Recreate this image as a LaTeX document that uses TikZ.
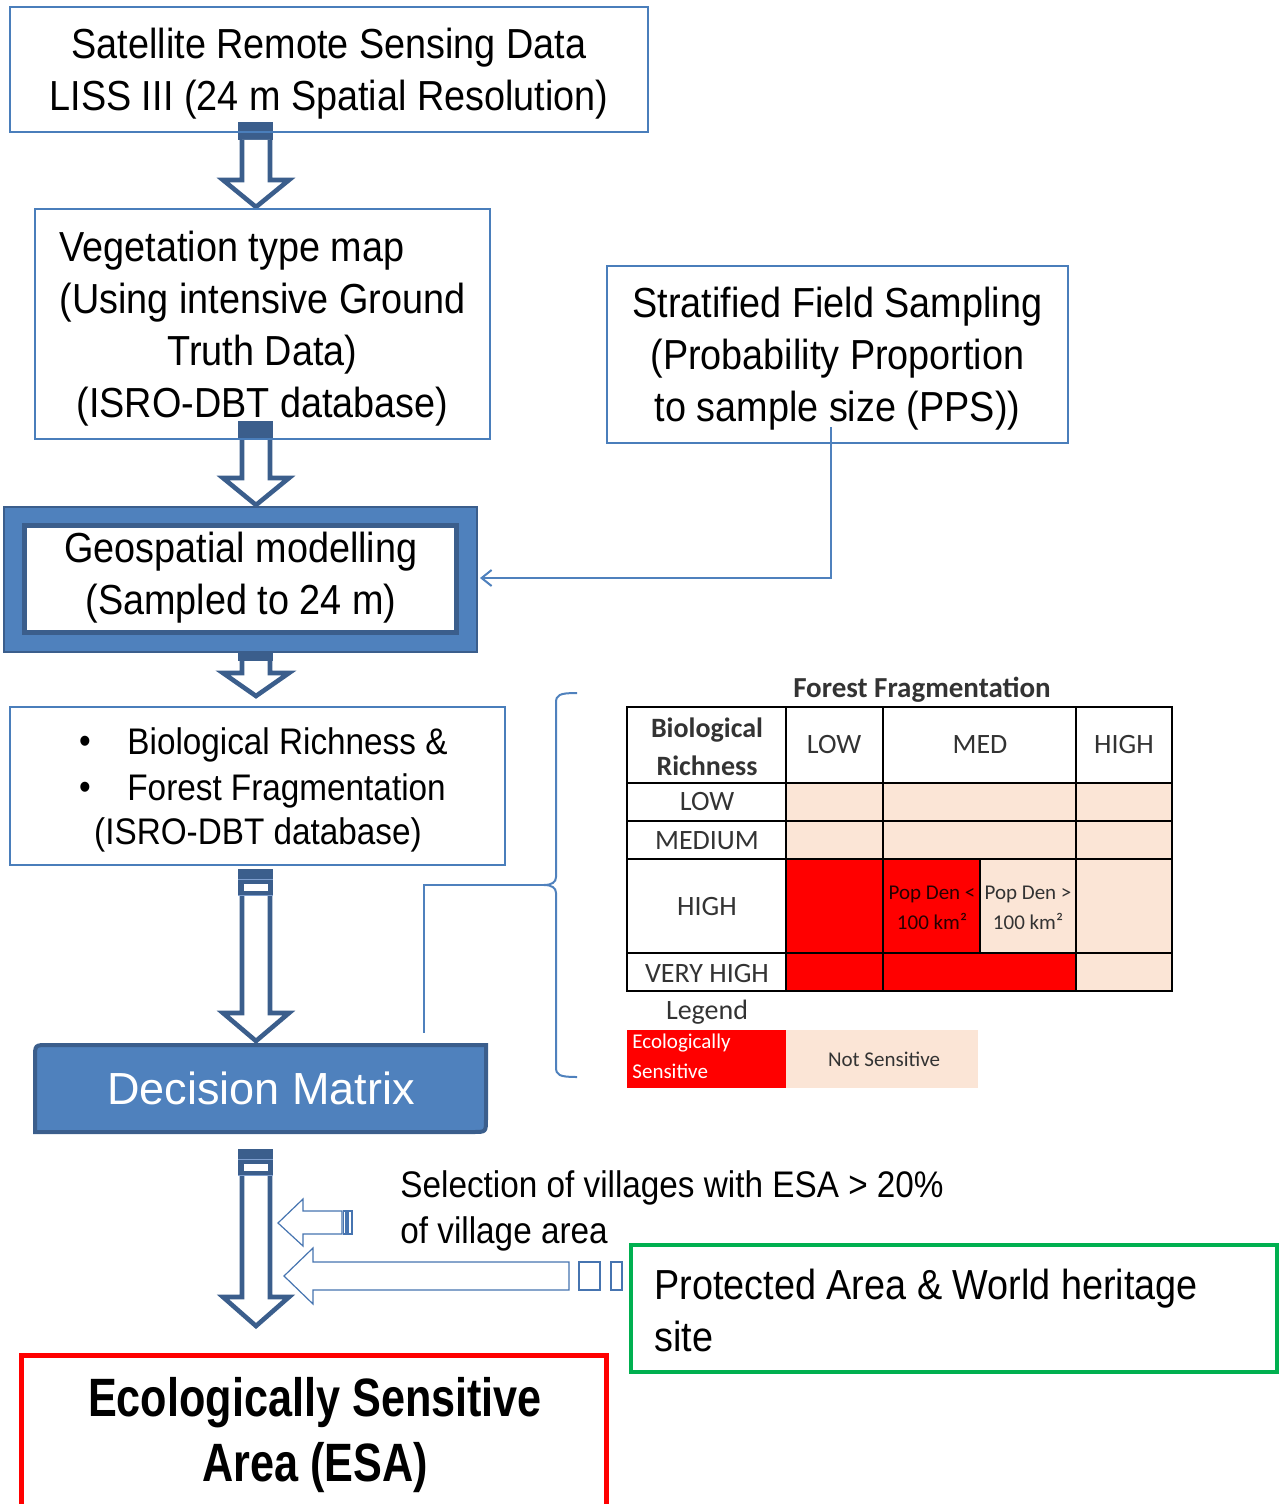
\documentclass[tikz,border=0pt]{standalone}
\usepackage{fontspec}
\usepackage{calc}
\setmainfont{Liberation Sans}[FakeStretch=0.9]
\newfontfamily\dmfont{Liberation Sans}
\newfontfamily\esafont{Liberation Sans}[FakeStretch=0.8]
\newfontfamily\calfont{Carlito}
\usetikzlibrary{arrows.meta}
\definecolor{boxblue}{HTML}{4A7EBB}
\definecolor{arrowblue}{HTML}{3B5E8C}
\definecolor{fillblue}{HTML}{4F81BD}
\definecolor{thinblue}{HTML}{4674B0}
\definecolor{stripeline}{HTML}{7F9FCF}
\definecolor{esared}{HTML}{FF0000}
\definecolor{pagreen}{HTML}{00B050}
\definecolor{beige}{HTML}{FBE5D6}
\definecolor{tgray}{HTML}{333333}
\newcommand{\mkdownarrow}[4]{%
  \filldraw[barrow] ({#1-14},#2) -- ({#1-14},#3) -- ({#1-33},#3) -- (#1,#4) -- ({#1+33},#3) -- ({#1+14},#3) -- ({#1+14},#2);}
\tikzset{
  box/.style={draw=boxblue, line width=1pt, inner sep=0pt},
  maintext/.style={font=\fontsize{21}{26}\selectfont, align=center, text=black, inner sep=0pt},
  midtext/.style={font=\fontsize{18.5}{23}\selectfont, text=black, inner sep=0pt},
  barrow/.style={draw=arrowblue, line width=2.3pt, fill=white, line join=miter},
  thinarrow/.style={draw=thinblue, line width=0.6pt, fill=white},
  conn/.style={draw=fillblue, line width=1pt},
  gridline/.style={draw=black, line width=1.2pt},
  cell/.style={font=\calfont\fontsize{14}{17}\selectfont, text=tgray, inner sep=0pt},
  small/.style={font=\calfont\fontsize{10.5}{12}\selectfont, inner sep=0pt},
}
\begin{document}
\begin{tikzpicture}[x=0.5pt,y=-0.5pt]
\useasboundingbox (0,0) rectangle (1282,1504);

% ---------- block arrows (drawn first, boxes overlay) ----------
\fill[arrowblue] (238,122) rectangle (273,140);
\mkdownarrow{256}{140}{180}{207}
\fill[arrowblue] (238,421) rectangle (273,440);
\mkdownarrow{256}{440}{478}{505}
\fill[arrowblue] (238,652) rectangle (273,661);
\mkdownarrow{256}{661}{673}{696}
% striped arrow 4
\fill[arrowblue] (238,869) rectangle (273,895);
\fill[white] (244,884) rectangle (268,891);
\draw[stripeline, line width=0.5pt] (238,879) -- (273,879) (238,895) -- (273,895);
\mkdownarrow{256}{896}{1013}{1041}
% striped arrow 5
\fill[arrowblue] (238,1149) rectangle (273,1175);
\fill[white] (244,1164) rectangle (268,1171);
\draw[stripeline, line width=0.5pt] (238,1159) -- (273,1159) (238,1175) -- (273,1175);
\mkdownarrow{256}{1176}{1297}{1326}

% ---------- boxes ----------
\node[box, minimum width=319pt, minimum height=62.5pt] (sat) at (329,69.5) {};
\node[maintext] (sattext) at (329,73.5) {Satellite Remote Sensing Data\\LISS III (24 m Spatial Resolution)};
\node[box, minimum width=227.5pt, minimum height=115pt] (veg) at (262.5,324) {};
\node[maintext] (vegtext) at (262.5,329)
  {\makebox[\widthof{(Using intensive Ground}][l]{Vegetation type map}\\(Using intensive Ground\\Truth Data)\\(ISRO-DBT database)};
\node[box, minimum width=230.5pt, minimum height=88.5pt] (strat) at (837.5,354.5) {};
\node[maintext] (strattext) at (837.5,359)
  {Stratified Field Sampling\\(Probability Proportion\\to sample size (PPS))};

% geospatial
\node[draw=arrowblue, line width=1pt, fill=fillblue, minimum width=236.5pt, minimum height=72.5pt, inner sep=0pt] (geoouter) at (240.5,579.5) {};
\node[draw=arrowblue, line width=2.5pt, fill=white, minimum width=216pt, minimum height=53.5pt, inner sep=0pt] (geo) at (240.5,579) {};
\node[maintext] (geotext) at (241,577.5) {Geospatial modelling\\(Sampled to 24 m)};

% biological richness box
\node[box, minimum width=247.5pt, minimum height=79pt] (bio) at (257.5,786) {};
\node[midtext] (bul1) at (85,745) {\textbullet};
\node[midtext, anchor=west] (b1) at (127,745) {Biological Richness \&};
\node[midtext] (bul2) at (85,791) {\textbullet};
\node[midtext, anchor=west] (b2) at (127,791) {Forest Fragmentation};
\node[midtext] (b3) at (258,835) {(ISRO-DBT database)};

% decision matrix
\filldraw[fill=fillblue, draw=arrowblue, line width=2pt]
  (35,1132) -- (35,1058) .. controls (35,1045) .. (48,1045) -- (486,1045) -- (486,1119) .. controls (486,1132) .. (473,1132) -- cycle;
\node[font=\dmfont\fontsize{22.5}{26}\selectfont, text=white, inner sep=0pt] (dm) at (261,1088) {Decision Matrix};

% ESA
\draw[esared, line width=2.5pt] (21.5,1510) -- (21.5,1355) -- (606,1355) -- (606,1510);
\node[font=\esafont\bfseries\fontsize{27}{32.5}\selectfont, align=center, inner sep=0pt] (esa) at (315,1435)
  {Ecologically Sensitive\\Area (ESA)};

% protected area
\node[draw=pagreen, line width=2pt, minimum width=323pt, minimum height=63.5pt, inner sep=0pt] (pa) at (954,1308.5) {};
\node[maintext, align=left, anchor=west] (patext) at (654,1310) {Protected Area \& World heritage\\site};

% selection text
\node[midtext, align=left, anchor=west] (sel) at (400,1211) {Selection of villages with ESA > 20\%\\of village area};

% left arrows
\filldraw[thinarrow] (342,1211) -- (303,1211) -- (303,1199) -- (278,1223) -- (303,1246) -- (303,1234) -- (342,1234) -- cycle;
\filldraw[thinarrow] (343.5,1211) rectangle (346,1234);
\filldraw[thinarrow] (348,1211) rectangle (352,1234);
\filldraw[thinarrow] (569,1262) -- (313,1262) -- (313,1248) -- (284,1276) -- (313,1304) -- (313,1290) -- (569,1290) -- cycle;
\filldraw[thinarrow] (579,1262) rectangle (600,1290);
\filldraw[thinarrow] (611,1262) rectangle (622,1290);

% connector from stratified sampling
\coordinate (s1) at (831,427);
\coordinate (geoin) at (480,578);
\draw[conn, -{Straight Barb[length=5pt,width=8pt]}] (s1) |- (geoin);

% brace and connector
\coordinate (bracetip) at (544,885);
\coordinate (dmin) at (424,1033);
\draw[conn] (577,693) .. controls (559,693) and (556,695) .. (556,703) -- (556,877)
  .. controls (556,882) and (552,885) .. (bracetip)
  .. controls (552,885) and (556,888) .. (556,893) -- (556,1067)
  .. controls (556,1075) and (559,1077) .. (577,1077);
\draw[conn] (bracetip) -| (dmin);

% ---------- decision table ----------
\fill[beige] (786,783) rectangle (1172,859);
\fill[beige] (980,859) rectangle (1172,953);
\fill[beige] (1076,953) rectangle (1172,991);
\fill[esared] (786,859) rectangle (980,953);
\fill[esared] (786,953) rectangle (1076,991);
\draw[gridline] (627,707) rectangle (1172,991);
\draw[gridline] (627,783) -- (1172,783) (627,821) -- (1172,821) (627,859) -- (1172,859) (627,953) -- (1172,953);
\draw[gridline] (786,707) -- (786,991) (883,707) -- (883,991) (1076,707) -- (1076,991) (980,859) -- (980,953);

\node[font=\calfont\bfseries\fontsize{14.5}{17}\selectfont, text=tgray, inner sep=0pt] (fftitle) at (922,690) {Forest Fragmentation};
\node[font=\calfont\bfseries\fontsize{14}{19}\selectfont, text=tgray, align=center, inner sep=0pt] (brhead) at (707,747) {Biological\\Richness};
\node[cell] (hlow) at (834,745) {LOW};
\node[cell] (hmed) at (980,745) {MED};
\node[cell] (hhigh) at (1124,745) {HIGH};
\node[cell] (rlow) at (707,802) {LOW};
\node[cell] (rmed) at (707,841) {MEDIUM};
\node[cell] (rhigh) at (707,907) {HIGH};
\node[cell] (rvhigh) at (707,973) {VERY HIGH};
\node[small, text=black!85!red, align=center, font=\calfont\fontsize{10.5}{15}\selectfont] (pd1) at (932,908) {Pop Den <\\100 km²};
\node[small, text=tgray, align=center, font=\calfont\fontsize{10.5}{15}\selectfont] (pd2) at (1028,908) {Pop Den >\\100 km²};

% legend
\node[cell] (legend) at (707,1012) {Legend};
\fill[esared] (627,1030) rectangle (786,1088);
\fill[beige] (786,1030) rectangle (978,1088);
\node[small, text=white, anchor=west] (leg1) at (632,1043) {Ecologically};
\node[small, text=white, anchor=west] (leg2) at (632,1071) {Sensitive};
\node[small, text=tgray] (leg3) at (884,1059) {Not Sensitive};
\end{tikzpicture}
\end{document}
